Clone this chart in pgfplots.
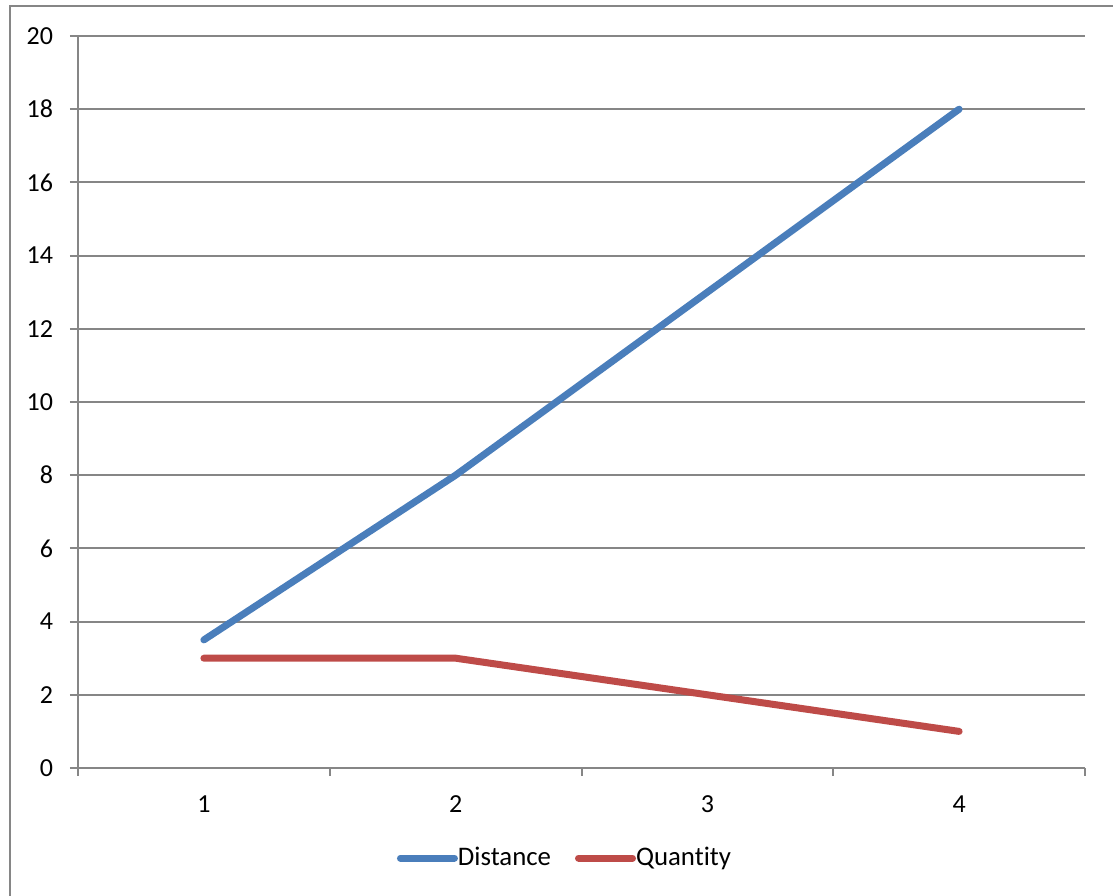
\documentclass[border=0pt]{standalone}
\usepackage{fontspec}
\setmainfont{Carlito}[Ligatures=NoCommon]
\usepackage{pgfplots}
\pgfplotsset{compat=1.18}
\usetikzlibrary{calc}

\definecolor{distblue}{HTML}{4A7EBB}
\definecolor{quantred}{HTML}{BE4B48}
\definecolor{gridgray}{HTML}{868686}

\begin{document}
\begin{tikzpicture}[x=1pt,y=1pt]
\begin{axis}[
  name=main,
  scale only axis,
  width=503.5pt, height=366pt,
  xmin=0.5, xmax=4.5,
  ymin=0, ymax=20,
  ytick={0,2,...,20},
  xtick={1,2,3,4},
  major x tick style={draw=none},
  minor xtick={0.5,1.5,2.5,3.5,4.5},
  minor x tick style={gridgray, line width=1pt},
  minor tick length=4pt,
  major tick length=4pt,
  tick align=outside,
  axis x line*=bottom,
  axis y line*=left,
  axis line style={gridgray, line width=1pt, -},
  ytick style={gridgray, line width=1pt},
  ymajorgrids,
  major grid style={gridgray, line width=1pt},
  tick label style={font=\fontsize{13}{15}\selectfont, text=black},
  /pgf/number format/assume math mode=true,
  yticklabel style={xshift=-5pt},
  xticklabel style={yshift=-6.5pt},
  clip=false,
  legend style={
    at={(0.4846,-0.123)}, anchor=center,
    draw=none, fill=none,
    legend columns=-1,
    font=\fontsize{13.4}{16}\selectfont,
    /tikz/every even column/.append style={column sep=10pt},
  },
  legend image code/.code={
    \draw[#1, line cap=round] (0pt,0pt) -- (27pt,0pt);
  },
]
\addplot[distblue, line width=3.5pt, line cap=round, line join=round]
  coordinates {(1,3.5) (2,8) (3,13) (4,18)};
\addlegendentry{\hspace{-2pt}Distance}
\addplot[quantred, line width=3.5pt, line cap=round, line join=round]
  coordinates {(1,3) (2,3) (3,2) (4,1)};
\addlegendentry{\hspace{-2pt}Quantity}
\end{axis}
% outer chart frame (left and top edges) and page extent
\path[use as bounding box] ($(main.south west)+(-39pt,-64pt)$) rectangle ($(main.north east)+(14pt,18pt)$);
\draw[gridgray, line width=1pt]
  ($(main.south west)+(-34pt,-64pt)$) |- ($(main.north east)+(14pt,15pt)$);
\end{tikzpicture}
\end{document}
